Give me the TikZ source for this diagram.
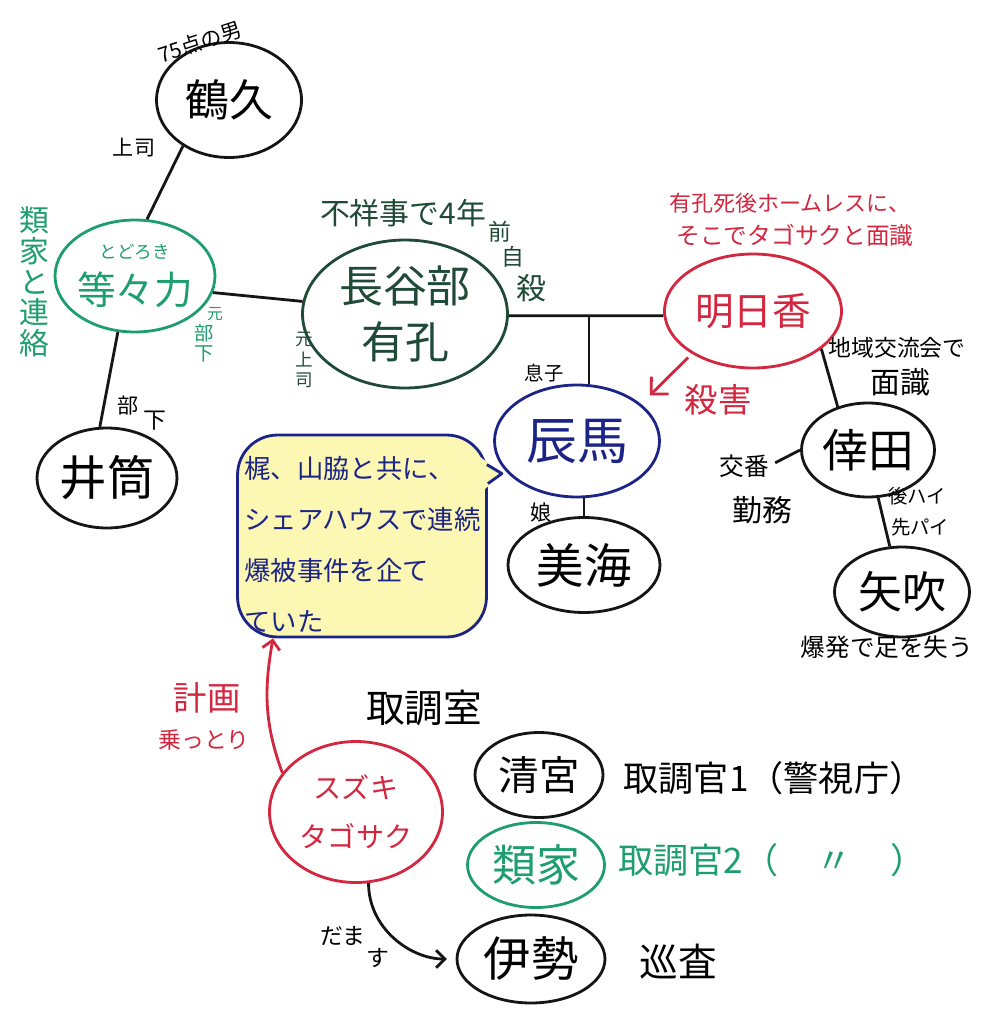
\documentclass[tikz,border=0pt]{standalone}
\usepackage{fontspec}
\newfontfamily\jpfont{Noto Sans CJK JP}
\usepackage{tikz}
\usetikzlibrary{arrows.meta,shapes.geometric,positioning}
\definecolor{kuro}{HTML}{151515}
\definecolor{midori}{HTML}{1E9E6E}
\definecolor{fukamidori}{HTML}{1F4A37}
\definecolor{aka}{HTML}{D3263F}
\definecolor{ao}{HTML}{1C2587}
\definecolor{kiiro}{HTML}{FCF7B2}
\tikzset{
    >={Straight Barb[length=5pt,width=10pt]},
    fsz/.style 2 args={font=\jpfont\fontsize{#1}{#2}\selectfont},
    hito/.style={
           ellipse,
           draw=kuro, line width=1.6pt,
           inner sep=0pt,
           align=center},
    kotoba/.style={
           inner sep=0pt,
           align=center},
    sen/.style={
           draw=kuro,
           line width=1.6pt},
    yaji/.style={
           ->,
           line width=1.6pt}
}

\begin{document}
\begin{tikzpicture}[x=0.02cm, y=-0.02cm]
        \useasboundingbox[fill=white] (0,0) rectangle (992,1024);

        \node[hito, minimum width=2.9cm, minimum height=2.3cm, fsz={25}{30}] (tsuruku) at (229,100) {鶴久};
        \node[kotoba, fsz={12}{14}, rotate=18] (otoko) at (200,42) {75点の男};
        \node[kotoba, fsz={12}{14}] (joushi) at (134,148) {上司};
        \node[hito, draw=midori, text=midori, inner xsep=-4pt, minimum width=3.2cm, minimum height=2.24cm, fsz={22}{26}] (todoroki) at (135,276) {{\fontsize{10}{12}\selectfont とどろき}\\等々力};
        \node[kotoba, text=midori, fsz={17}{17.5}] (renraku) at (34,282) {類\\家\\と\\連\\絡};
        \node[kotoba, text=midori, fsz={9}{11}] (moto1) at (215,314) {元};
        \node[kotoba, text=midori, fsz={11}{11.5}] (buka1) at (204,343) {部\\下};
        \node[hito, minimum width=2.8cm, minimum height=2cm, fsz={27}{30}] (izutsu) at (107,478) {井筒};
        \node[kotoba, fsz={12}{14}] (bu) at (128,406) {部};
        \node[kotoba, fsz={13}{14}] (shita) at (155,421) {下};

        \node[hito, draw=fukamidori, text=fukamidori, minimum width=4.1cm, minimum height=2.96cm, fsz={25}{32}] (hasebe) at (405,314) {長谷部\\有孔};
        \node[kotoba, text=fukamidori, fsz={17}{18}] (fushouji) at (403,213) {不祥事で4年};
        \node[kotoba, text=fukamidori, fsz={13}{14}] (mae) at (500,232) {前};
        \node[kotoba, text=fukamidori, fsz={13}{14}] (ji) at (513,257) {自};
        \node[kotoba, text=fukamidori, fsz={17}{18}] (satsu) at (531,288) {殺};
        \node[kotoba, text=fukamidori, fsz={10}{11.5}] (moto2) at (304,360) {元\\上\\司};

        \node[hito, draw=aka, text=aka, minimum width=3.54cm, minimum height=2.28cm, fsz={22}{26}] (asuka) at (753,311) {明日香};
        \node[kotoba, text=aka, fsz={12.5}{14}] (homeless1) at (790,203) {有孔死後ホームレスに、};
        \node[kotoba, text=aka, fsz={13.5}{15}] (homeless2) at (795,235) {そこでタゴサクと面識};
        \node[kotoba, text=aka, fsz={19}{20}] (satsugai) at (718,400) {殺害};

        \node[hito, draw=ao, text=ao, minimum width=3.3cm, minimum height=2.24cm, fsz={29}{32}] (tatsuma) at (577,441) {辰馬};
        \node[kotoba, fsz={11}{12}] (musuko) at (544,373) {息子};
        \node[kotoba, fsz={12}{13}] (musume) at (541,512) {娘};
        \node[hito, minimum width=3.04cm, minimum height=1.9cm, fsz={27}{30}] (mikai) at (584,565) {美海};

        \node[hito, minimum width=2.66cm, minimum height=1.88cm, fsz={26}{30}] (kohda) at (868,450) {倖田};
        \node[kotoba, fsz={13}{14}] (chiiki) at (897,348) {地域交流会で};
        \node[kotoba, fsz={17}{18}] (menshiki) at (900,382) {面識};
        \node[kotoba, fsz={14}{15}] (kouban) at (744,466) {交番};
        \node[kotoba, fsz={17}{18}] (kinmu) at (762,510) {勤務};
        \node[kotoba, fsz={11}{12}] (kouhai) at (917,496) {後ハイ};
        \node[kotoba, fsz={11}{12}] (senpai) at (920,527) {先パイ};
        \node[hito, minimum width=2.7cm, minimum height=1.8cm, fsz={25}{30}] (yabuki) at (902,592) {矢吹};
        \node[kotoba, fsz={14}{15}] (bakuhatsu) at (887,647) {爆発で足を失う};

        \node[kotoba, draw=ao, fill=kiiro, text=ao, line width=1.6pt, rounded corners=0.8cm, minimum width=4.98cm, minimum height=4.04cm, text width=4.7cm, align=left, fsz={15}{29}] (fukidashi) at (362,536) {\rule{0pt}{22pt}梶、山脇と共に、\\シェアハウスで連続\\爆被事件を企て\\ていた};
        \coordinate (kuchi) at ([shift={(14,40)}]fukidashi.north east);
        \fill[kiiro] ([shift={(-12,20)}]fukidashi.north east) -- (kuchi) -- ([shift={(-10,62)}]fukidashi.north east) -- cycle;
        \draw[ao, line width=1.6pt, line join=round] ([shift={(-1,31)}]fukidashi.north east) -- (kuchi) -- ([shift={(0,50)}]fukidashi.north east);

        \node[kotoba, fsz={22}{24}] (torishirabeshitsu) at (424,708) {取調室};
        \node[hito, draw=aka, text=aka, minimum width=3.46cm, minimum height=2.82cm, fsz={16}{28}] (suzuki) at (356,812) {スズキ\\タゴサク};
        \node[kotoba, text=aka, fsz={19}{20}] (keikaku) at (207,698) {計画};
        \node[kotoba, text=aka, fsz={13}{14}] (nottori) at (204,740) {乗っとり};
        \node[hito, minimum width=2.56cm, minimum height=1.7cm, fsz={23}{26}] (kiyomiya) at (539,775) {清宮};
        \node[kotoba, fsz={20}{22}] (kan1) at (774,778) {取調官1（警視庁）};
        \node[hito, draw=midori, text=midori, minimum width=2.74cm, minimum height=1.7cm, fsz={25}{28}] (ruike) at (536,865) {類家};
        \node[kotoba, text=midori, fsz={20}{22}] (kan2) at (772,860) {取調官2（\hspace{1.1em}〃\hspace{1.1em}）};
        \node[hito, minimum width=2.96cm, minimum height=1.76cm, fsz={27}{30}] (ise) at (531,959) {伊勢};
        \node[kotoba, fsz={22}{24}] (junsa) at (678,962) {巡査};
        \node[kotoba, fsz={13}{14}] (dama) at (343,936) {だま};
        \node[kotoba, fsz={13}{14}] (su) at (378,958) {す};

        \draw[sen] (tsuruku.225) -- (todoroki.78);
        \draw[sen] (todoroki.253) -- (izutsu.98);
        \draw[sen] (todoroki.348) -- (hasebe.173);
        \draw[sen] (hasebe.359) -- (asuka.183);
        \draw[sen] (tatsuma.78) -- (tatsuma.78 |- asuka.183);
        \draw[sen] (mikai.north) -- (mikai.north |- tatsuma.south);
        \draw[yaji, aka, >={Straight Barb[length=7pt,width=14pt]}, shorten <=3pt, shorten >=7pt] (asuka.215) -- (tatsuma.30);
        \draw[sen] (asuka.331) -- (kohda.125);
        \draw[sen, shorten <=4pt] (kouban.east) -- (kohda.west);
        \draw[sen] (kohda.282) -- (yabuki.105);
        \draw[yaji, aka] (suzuki.152) to[out=110, in=-100] (fukidashi.229);
        \draw[yaji, kuro, shorten >=5pt] (suzuki.280) to[out=-90, in=180] (ise.west);

    \end{tikzpicture}
\end{document}
